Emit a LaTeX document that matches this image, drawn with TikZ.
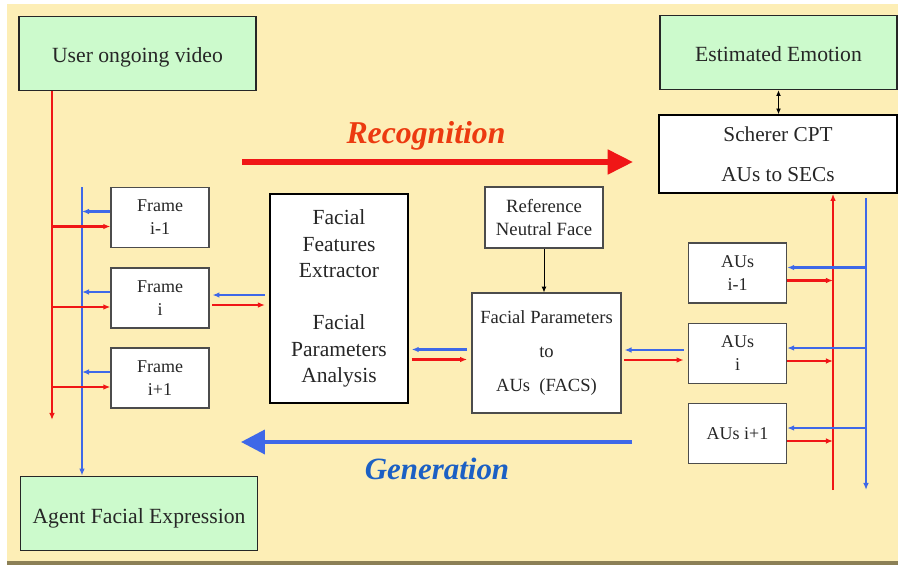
\documentclass[tikz,border=0pt]{standalone}
\usepackage{fontspec}
\setmainfont{Liberation Serif}
\usetikzlibrary{arrows.meta,calc}

\definecolor{bgyellow}{RGB}{253,238,182}
\definecolor{boxgreen}{RGB}{204,250,204}
\definecolor{flowred}{RGB}{240,22,22}
\definecolor{flowblue}{RGB}{62,104,232}
\definecolor{recogred}{RGB}{236,58,16}
\definecolor{generblue}{RGB}{28,96,196}
\definecolor{baseolive}{RGB}{140,128,86}

\begin{document}
\begin{tikzpicture}[x=0.025cm,y=-0.025cm,
  greenbox/.style={draw=black!85,line width=1.2pt,fill=boxgreen,inner sep=0pt,text=black!85,
    text height=13.5pt,text depth=0pt,
    minimum width=5.93cm,minimum height=1.85cm,font=\fontsize{15.4pt}{18.7pt}\selectfont},
  whitebox/.style={draw=black!70,line width=0.9pt,fill=white,inner sep=0pt,align=center,text=black!85,
    font=\fontsize{12.8pt}{16.4pt}\selectfont},
  framebox/.style={whitebox,minimum width=2.45cm,minimum height=1.5cm},
  redflow/.style={flowred,line width=1.5pt,-{Latex[length=5pt,width=4pt]}},
  blueflow/.style={flowblue,line width=1.5pt,-{Latex[length=5pt,width=4pt]}},
  blackflow/.style={black,line width=0.6pt,-{Latex[length=4pt,width=3.5pt]}},
  pairflow/.style={black,line width=0.6pt,{Latex[length=4pt,width=3.5pt]}-{Latex[length=4pt,width=3.5pt]}}]

\useasboundingbox (0,0) rectangle (898,565);
\fill[white] (0,0) rectangle (898,565);
\fill[bgyellow] (7,4) rectangle (898,561);
\fill[baseolive] (7,561) rectangle (898,565);

% inputs and outputs
\node[greenbox] (video) at (137.5,53.5) {User ongoing video};
\node[greenbox] (emotion) at (778.5,52.5) {Estimated Emotion};
\node[greenbox] (agent) at (139,513.5) {Agent Facial Expression};
\node[whitebox,draw=black,line width=1.2pt,minimum width=5.95cm,minimum height=1.95cm,
  font=\fontsize{15.1pt}{28.5pt}\selectfont] (scherer) at (778,154) {Scherer CPT\\AUs to SECs};

% frames and AUs
\node[framebox] (frame1) at (160,217.5) {Frame\\i-1};
\node[framebox] (frame2) at (160,298) {Frame\\i};
\node[framebox] (frame3) at (160,378) {Frame\\i+1};
\node[framebox] (aus1) at (737.5,273) {AUs\\i-1};
\node[framebox] (aus2) at (737.5,353.5) {AUs\\i};
\node[framebox] (aus3) at (737.5,433.5) {AUs i+1};

% processing blocks
\node[whitebox,draw=black,line width=1.2pt,minimum width=3.45cm,minimum height=5.225cm,
  font=\fontsize{15.3pt}{18.7pt}\selectfont] (extractor) at (339,298.5)
  {Facial\\Features\\Extractor\\[18.7pt]Facial\\Parameters\\Analysis};
\node[whitebox,minimum width=2.95cm,minimum height=1.525cm,
  font=\fontsize{13.3pt}{16.4pt}\selectfont] (neutral) at (544,217.5) {Reference\\Neutral Face};
\node[whitebox,minimum width=3.725cm,minimum height=3cm,
  font=\fontsize{13.2pt}{24.5pt}\selectfont] (facs) at (546.5,353) {Facial Parameters\\to\\AUs\ \ (FACS)};

% left buses
\coordinate (redL) at (52,420);
\coordinate (blueL) at (82,187);
\draw[blueflow] (blueL) -- (blueL |- agent.north);
\draw[redflow] (video.south -| redL) -- (redL);
\foreach \f in {frame1,frame2,frame3} {
  \path ($(\f.west)+(0,-6)$) coordinate (b) ($(\f.west)+(0,9)$) coordinate (r);
  \draw[blueflow] (b) -- (b -| blueL);
  \draw[redflow] (r -| redL) -- (r);
}

% right buses
\coordinate (redR) at (833,490);
\coordinate (blueR) at (866,490);
\draw[redflow] (redR) -- (redR |- scherer.south);
\draw[blueflow,shorten <=3pt] (blueR |- scherer.south) -- (blueR);
\foreach \a in {aus1,aus2,aus3} {
  \path ($(\a.east)+(0,-5.5)$) coordinate (b) ($(\a.east)+(0,7.5)$) coordinate (r);
  \draw[blueflow] (b -| blueR) -- (b);
  \draw[redflow] (r) -- (r -| redR);
}

% chain between blocks
\foreach \l/\r in {frame2/extractor,extractor/facs,facs/aus2} {
  \path ($(\r.west)+(0,-3.5)$) coordinate (b) ($(\r.west)+(0,6.5)$) coordinate (r);
  \draw[blueflow,shorten <=3pt,shorten >=2pt] (b) -- (b -| \l.east);
  \draw[redflow,shorten <=2pt,shorten >=3pt] (r -| \l.east) -- (r);
}
\draw[blackflow] (neutral.south) -- (neutral.south |- facs.north);
\draw[pairflow] (emotion.south) -- (emotion.south |- scherer.north);

% recognition and generation
\coordinate (recogA) at (242,162);
\coordinate (recogB) at (633,162);
\coordinate (generA) at (632,442);
\coordinate (generB) at (241,442);
\draw[flowred,line width=3.6pt,-{Triangle[length=18pt,width=17pt]}] (recogA) -- (recogB);
\draw[flowblue,line width=2.8pt,-{Triangle[length=17pt,width=17pt]}] (generA) -- (generB);
\node[recogred,anchor=base,font=\fontsize{22.6pt}{26pt}\selectfont\bfseries\itshape] (recog) at (426,143) {Recognition};
\node[generblue,anchor=base,font=\fontsize{22pt}{26pt}\selectfont\bfseries\itshape] (gener) at (437,479) {Generation};

\end{tikzpicture}
\end{document}
